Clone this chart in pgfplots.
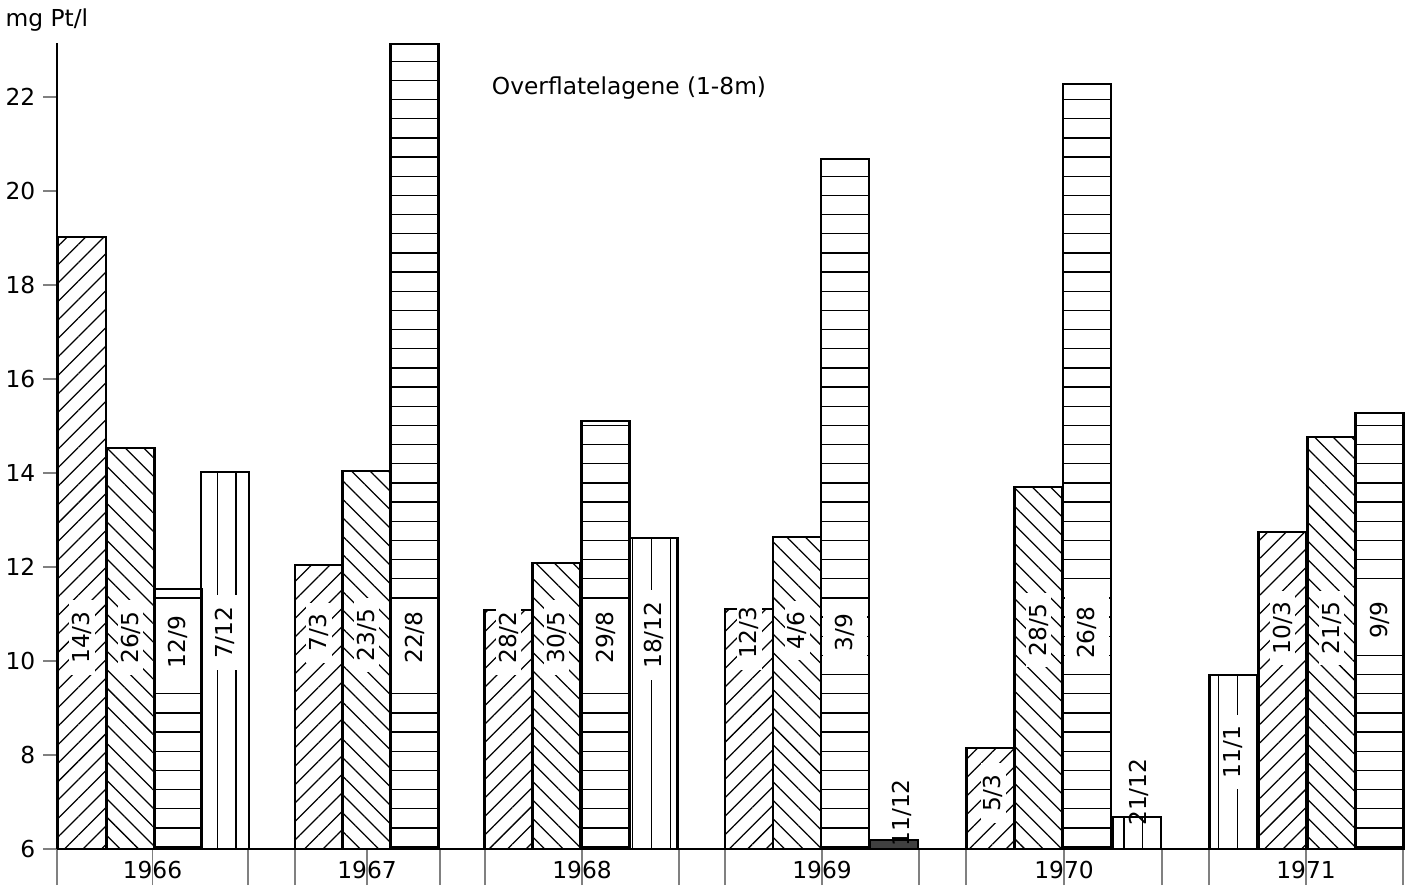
\documentclass[border=0pt]{standalone}
\usepackage{fontspec}
\setmainfont{DejaVu Sans}
\usepackage{pgfplots}
\pgfplotsset{compat=1.18}
\usetikzlibrary{patterns.meta}
\newcommand{\labfont}{\fontsize{8.4}{10}\selectfont}
\pgfdeclarepattern{
  name=hlines,
  bottom left={\pgfpoint{-0.6pt}{0pt}},
  top right={\pgfpoint{40.6pt}{6.9pt}},
  tile size={\pgfpoint{40pt}{6.9pt}},
  code={\pgfsetlinewidth{0.45pt}\pgfpathmoveto{\pgfpoint{-0.6pt}{3.45pt}}\pgfpathlineto{\pgfpoint{40.6pt}{3.45pt}}\pgfusepath{stroke}}
}
\pgfdeclarepattern{
  name=vlines,
  bottom left={\pgfpoint{0pt}{-0.6pt}},
  top right={\pgfpoint{6.8pt}{40.6pt}},
  tile size={\pgfpoint{6.8pt}{40pt}},
  code={\pgfsetlinewidth{0.45pt}\pgfpathmoveto{\pgfpoint{3.4pt}{-0.6pt}}\pgfpathlineto{\pgfpoint{3.4pt}{40.6pt}}\pgfusepath{stroke}}
}
\tikzset{
  lab/.style={rotate=90, fill=white, inner xsep=4pt, inner ysep=1pt, font=\labfont},
  labh/.style={lab, minimum height=16pt},
  labn/.style={rotate=90, inner sep=1pt, font=\labfont},
}
\begin{document}
\begin{tikzpicture}
\begin{axis}[
  scale only axis, width=485.3pt, height=290.2pt,
  xmin=57, xmax=1405, ymin=6, ymax=23.15,
  axis lines*=left,
  axis line style={line width=0.8pt},
  clip mode=individual,
  /pgf/number format/assume math mode=true,
  ticklabel style={font=\labfont},
  tick align=outside,
  ytick={6,8,...,22},
  ytick style={/pgfplots/major tick length=5pt, line width=0.7pt},
  xtick={57,248,295,440,485,679,725,919,966,1162,1209,1403},
  xticklabels={},
  xtick style={/pgfplots/major tick length=13pt, line width=0.7pt},
  extra x ticks={152.5,367,582,822,1064,1306},
  extra x tick labels={1966,1967,1968,1969,1970,1971},
  extra x tick style={major tick length=0pt, tick label style={yshift=-1pt}},
  ybar, bar shift=0pt, bar width=48,
]
% /// hatched
\addplot[draw=black, line width=0.8pt, pattern={Lines[angle=45,distance=4.7pt,line width=0.45pt]}]
  coordinates {(82,19.02) (319,12.04) (508.5,11.09) (749,11.10) (990.5,8.15) (1282.5,12.74)};
% \\\ hatched
\addplot[draw=black, line width=0.8pt, pattern={Lines[angle=-45,distance=4.7pt,line width=0.45pt]}]
  coordinates {(130.5,14.53) (366.5,14.04) (556.5,12.09) (797,12.64) (1038.5,13.70) (1331.5,14.77)};
% horizontal lines
\addplot[draw=black, line width=0.8pt, pattern=hlines]
  coordinates {(178,11.53) (414.5,23.13) (605.5,15.11) (845,20.68) (1087,22.28) (1379.5,15.28)};
% vertical lines
\addplot[draw=black, line width=0.8pt, pattern=vlines]
  coordinates {(225,14.02) (653.5,12.62) (1137,6.68) (1233.5,9.70)};
% filled
\addplot[draw=black, line width=0.8pt, fill=black!75]
  coordinates {(894,6.19)};

\node[font=\labfont] at (axis cs:629,22.19) {Overflatelagene (1-8m)};
\node[anchor=west, inner sep=0pt, font=\labfont, xshift=-18.7pt, yshift=8.3pt] at (rel axis cs:0,1) {mg Pt/l};

% 1966
\node[lab]  at (axis cs:82,10.5) {14/3};
\node[lab]  at (axis cs:130.5,10.5) {26/5};
\node[labh] at (axis cs:178,10.4) {12/9};
\node[lab]  at (axis cs:225,10.6) {7/12};
% 1967
\node[lab]  at (axis cs:319,10.6) {7/3};
\node[lab]  at (axis cs:366.5,10.55) {23/5};
\node[labh] at (axis cs:414.5,10.5) {22/8};
% 1968
\node[lab]  at (axis cs:508.5,10.5) {28/2};
\node[lab]  at (axis cs:556.5,10.5) {30/5};
\node[labh] at (axis cs:605.5,10.5) {29/8};
\node[lab]  at (axis cs:653.5,10.55) {18/12};
% 1969
\node[lab]  at (axis cs:749,10.6) {12/3};
\node[lab]  at (axis cs:797,10.65) {4/6};
\node[labh] at (axis cs:845,10.6) {3/9};
\node[labn] at (axis cs:902,6.77) {11/12};
% 1970
\node[lab]  at (axis cs:993,7.19) {5/3};
\node[lab]  at (axis cs:1038.5,10.66) {28/5};
\node[labh] at (axis cs:1087,10.6) {26/8};
\node[labn] at (axis cs:1139,7.21) {21/12};
% 1971
\node[lab]  at (axis cs:1233.5,8.06) {11/1};
\node[lab]  at (axis cs:1282.5,10.7) {10/3};
\node[lab]  at (axis cs:1331.5,10.7) {21/5};
\node[labh] at (axis cs:1379.5,10.87) {9/9};
\end{axis}
\pgfresetboundingbox
\path ([xshift=-20.52pt, yshift=-16.56pt]current axis.south west) rectangle ++(505.8pt,322.2pt);
\end{tikzpicture}
\end{document}
